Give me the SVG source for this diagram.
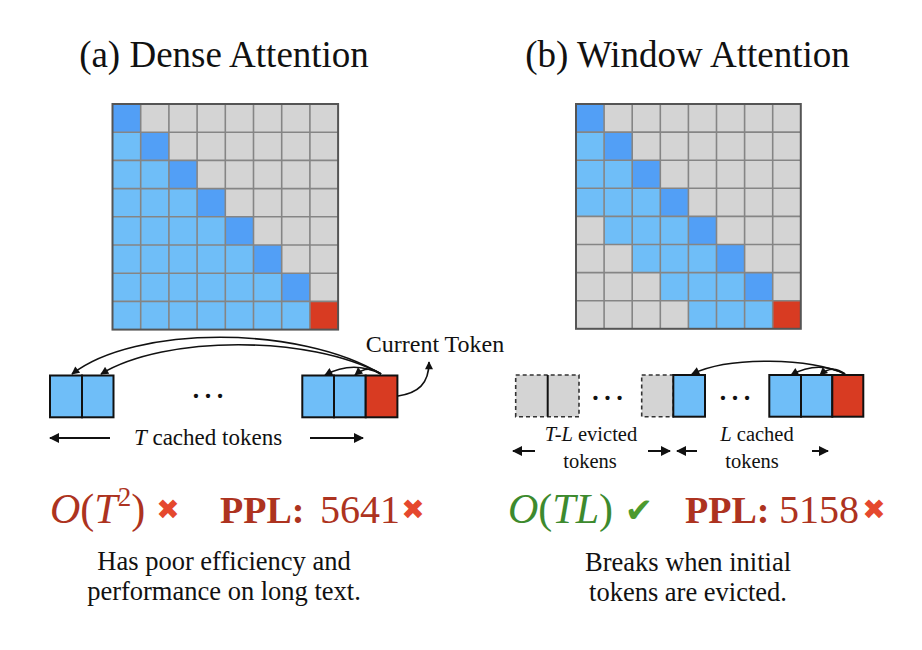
<svg xmlns="http://www.w3.org/2000/svg" width="922" height="650" viewBox="0 0 922 650">
<defs>
<style>
.serif{font-family:"Liberation Serif","Times New Roman",Times,"DejaVu Serif",serif;fill:#111}
.it{font-style:italic}
.gray{fill:#d4d4d4}
.lb{fill:#6fbef8}
.db{fill:#529ff6}
.red{fill:#d83b22}
.grid{fill:none;stroke:#858585;stroke-width:1.6}
.frame{fill:none;stroke:#555;stroke-width:2}
.tok{stroke:#111;stroke-width:2}
.ev{fill:#d4d4d4;stroke:#333;stroke-width:1.6;stroke-dasharray:4 3}
.conn{fill:none;stroke:#111;stroke-width:1.6}
.harr{fill:none;stroke:#111;stroke-width:2}
.bad{fill:#ad3320}
.good{fill:#3d8a2e}
.sym{font-family:"DejaVu Sans",sans-serif;font-weight:bold}
</style>
<marker id="ah" viewBox="0 0 10 10" refX="9" refY="5" markerWidth="10" markerHeight="8" markerUnits="userSpaceOnUse" orient="auto">
<path d="M0,0 L10,5 L0,10 Z" fill="#111"/>
</marker>
<marker id="ahb" viewBox="0 0 10 10" refX="9" refY="5" markerWidth="11" markerHeight="10" markerUnits="userSpaceOnUse" orient="auto">
<path d="M0,0 L10,5 L0,10 Z" fill="#111"/>
</marker>
</defs>
<rect width="922" height="650" fill="#fff"/>

<g id="title-a"><text class="serif" x="224" y="67" font-size="37" text-anchor="middle">(a) Dense Attention</text></g>
<g id="title-b"><text class="serif" x="687.5" y="67" font-size="37" text-anchor="middle">(b) Window Attention</text></g>

<g id="matrix-a">
<rect class="gray" x="112.5" y="104" width="225.6" height="225.6"/>
<polygon class="lb" points="112.5,132.2 140.7,132.2 140.7,160.4 168.9,160.4 168.9,188.6 197.1,188.6 197.1,216.8 225.3,216.8 225.3,245 253.5,245 253.5,273.2 281.7,273.2 281.7,301.4 309.9,301.4 309.9,329.6 112.5,329.6"/>
<rect class="db" x="112.5" y="104" width="28.2" height="28.2"/>
<rect class="db" x="140.7" y="132.2" width="28.2" height="28.2"/>
<rect class="db" x="168.9" y="160.4" width="28.2" height="28.2"/>
<rect class="db" x="197.1" y="188.6" width="28.2" height="28.2"/>
<rect class="db" x="225.3" y="216.8" width="28.2" height="28.2"/>
<rect class="db" x="253.5" y="245" width="28.2" height="28.2"/>
<rect class="db" x="281.7" y="273.2" width="28.2" height="28.2"/>
<rect class="red" x="309.9" y="301.4" width="28.2" height="28.2"/>
<path class="grid" d="M140.7,104V329.6M168.9,104V329.6M197.1,104V329.6M225.3,104V329.6M253.5,104V329.6M281.7,104V329.6M309.9,104V329.6M112.5,132.2H338.1M112.5,160.4H338.1M112.5,188.6H338.1M112.5,216.8H338.1M112.5,245H338.1M112.5,273.2H338.1M112.5,301.4H338.1"/>
<rect class="frame" x="112.5" y="104" width="225.6" height="225.6"/>
</g>

<g id="matrix-b">
<rect class="gray" x="576" y="104" width="224.8" height="224.8"/>
<polygon class="lb" points="576,132.1 604.1,132.1 604.1,160.2 632.2,160.2 632.2,188.3 660.3,188.3 660.3,216.4 688.4,216.4 688.4,244.5 716.5,244.5 716.5,272.6 744.6,272.6 744.6,300.7 772.7,300.7 772.7,328.8 688.4,328.8 688.4,300.7 660.3,300.7 660.3,272.6 632.2,272.6 632.2,244.5 604.1,244.5 604.1,216.4 576,216.4"/>
<rect class="db" x="576" y="104" width="28.1" height="28.1"/>
<rect class="db" x="604.1" y="132.1" width="28.1" height="28.1"/>
<rect class="db" x="632.2" y="160.2" width="28.1" height="28.1"/>
<rect class="db" x="660.3" y="188.3" width="28.1" height="28.1"/>
<rect class="db" x="688.4" y="216.4" width="28.1" height="28.1"/>
<rect class="db" x="716.5" y="244.5" width="28.1" height="28.1"/>
<rect class="db" x="744.6" y="272.6" width="28.1" height="28.1"/>
<rect class="red" x="772.7" y="300.7" width="28.1" height="28.1"/>
<path class="grid" d="M604.1,104V328.8M632.2,104V328.8M660.3,104V328.8M688.4,104V328.8M716.5,104V328.8M744.6,104V328.8M772.7,104V328.8M576,132.1H800.8M576,160.2H800.8M576,188.3H800.8M576,216.4H800.8M576,244.5H800.8M576,272.6H800.8M576,300.7H800.8"/>
<rect class="frame" x="576" y="104" width="224.8" height="224.8"/>
</g>

<g id="tokens-a">
<rect class="tok lb" x="50" y="375.5" width="32" height="41.8"/>
<rect class="tok lb" x="82" y="375.5" width="31.5" height="41.8"/>
<text class="serif" x="208" y="398" font-size="36" text-anchor="middle">…</text>
<rect class="tok lb" x="302.3" y="375.5" width="31.7" height="41.8"/>
<rect class="tok lb" x="334" y="375.5" width="31.7" height="41.8"/>
<rect class="tok red" x="365.7" y="375.5" width="31.7" height="41.8"/>
</g>

<g id="label-current"><text class="serif" x="435" y="352" font-size="24" text-anchor="middle">Current Token</text></g>
<g id="label-t-cached"><text class="serif" x="208" y="445" font-size="23" text-anchor="middle"><tspan class="it">T</tspan> cached tokens</text></g>

<g id="tokens-b">
<rect class="ev" x="515.7" y="375" width="63.3" height="41.7"/>
<line x1="547.7" y1="375" x2="547.7" y2="416.7" stroke="#111" stroke-width="2"/>
<text class="serif" x="607.5" y="400" font-size="36" text-anchor="middle">…</text>
<rect class="ev" x="641.7" y="375" width="31.6" height="41.7"/>
<rect class="tok lb" x="673.3" y="375" width="31.7" height="41.7"/>
<text class="serif" x="735" y="400" font-size="36" text-anchor="middle">…</text>
<rect class="tok lb" x="769.3" y="375" width="31.7" height="41.7"/>
<rect class="tok lb" x="801" y="375" width="31.3" height="41.7"/>
<rect class="tok red" x="832.3" y="375" width="31" height="41.7"/>
</g>

<g id="label-evicted">
<text class="serif" x="591" y="441" font-size="20.5" text-anchor="middle"><tspan class="it">T-L</tspan> evicted</text>
<text class="serif" x="590" y="468" font-size="20.5" text-anchor="middle">tokens</text>
</g>
<g id="label-l-cached">
<text class="serif" x="757" y="441" font-size="20.5" text-anchor="middle"><tspan class="it">L</tspan> cached</text>
<text class="serif" x="752" y="468" font-size="20.5" text-anchor="middle">tokens</text>
</g>

<g id="connectors">
<path class="conn" marker-end="url(#ah)" d="M381,374 C300,325 135,325 72,374"/>
<path class="conn" marker-end="url(#ah)" d="M381,374 C310,335 165,335 101,374"/>
<path class="conn" marker-end="url(#ah)" d="M381,374 Q353,360 325,375"/>
<path class="conn" marker-end="url(#ah)" d="M381,374 Q368,364 355,375"/>
<path class="conn" stroke-width="2" marker-end="url(#ah)" d="M398,396 C418,393 429,384 429,362"/>
<path class="harr" marker-end="url(#ahb)" d="M110,438 H50"/>
<path class="harr" marker-end="url(#ahb)" d="M310,438 H363"/>
<path class="conn" marker-end="url(#ah)" d="M845,374 C810,358 730,356 692,374"/>
<path class="conn" marker-end="url(#ah)" d="M845,374 Q818,360 791,375"/>
<path class="conn" marker-end="url(#ah)" d="M845,374 Q832,364 820,375"/>
<path class="harr" marker-end="url(#ahb)" d="M535,451 H513"/>
<path class="harr" marker-end="url(#ahb)" d="M648,451 H670"/>
<path class="harr" marker-end="url(#ahb)" d="M697,451 H677"/>
<path class="harr" marker-end="url(#ahb)" d="M812,451 H828"/>
</g>

<g id="result-a">
<text class="serif bad" x="50" y="523" font-size="42"><tspan class="it">O</tspan>(<tspan class="it">T</tspan><tspan font-size="27" dy="-17">2</tspan><tspan dy="17">)</tspan></text>
<text class="sym" x="168" y="519" font-size="28" text-anchor="middle" fill="#e5482e">✖</text>
<text class="serif bad" x="220" y="523" font-size="38" font-weight="bold">PPL:</text>
<text class="serif bad" x="320" y="523" font-size="40">5641</text>
<text class="sym" x="413" y="519" font-size="28" text-anchor="middle" fill="#e5482e">✖</text>
<text class="serif" x="224" y="570" font-size="26.5" text-anchor="middle">Has poor efficiency and</text>
<text class="serif" x="224" y="600" font-size="26.5" text-anchor="middle">performance on long text.</text>
</g>

<g id="result-b">
<text class="serif good" x="508" y="523" font-size="42"><tspan class="it">O</tspan>(<tspan class="it">TL</tspan>)</text>
<text class="sym" x="639" y="522" font-size="34" text-anchor="middle" fill="#4c9a2f">✔</text>
<text class="serif bad" x="685" y="523" font-size="38" font-weight="bold">PPL:</text>
<text class="serif bad" x="779" y="523" font-size="40">5158</text>
<text class="sym" x="874" y="519" font-size="28" text-anchor="middle" fill="#e5482e">✖</text>
<text class="serif" x="688" y="571" font-size="26.5" text-anchor="middle">Breaks when initial</text>
<text class="serif" x="688" y="601" font-size="26.5" text-anchor="middle">tokens are evicted.</text>
</g>
</svg>
